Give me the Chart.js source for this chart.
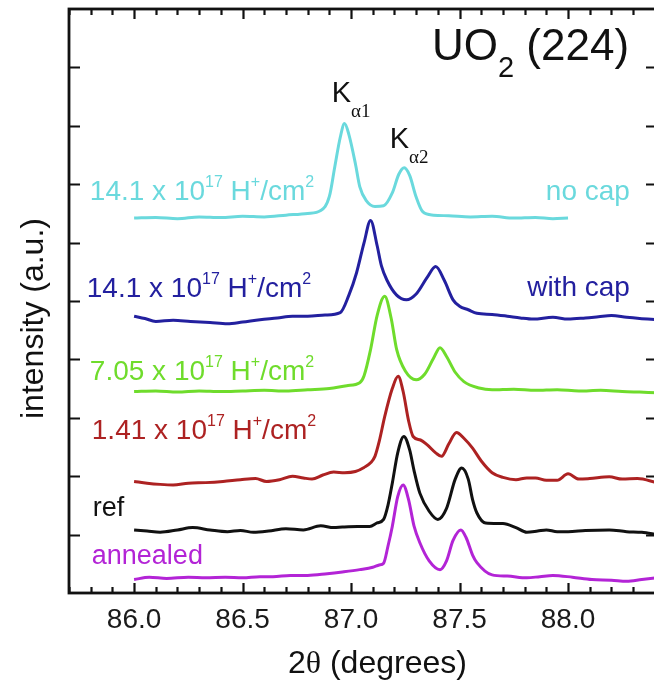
<!DOCTYPE html>
<html lang="en">
<head>
<meta charset="UTF-8" />
<title>UO2 (224) XRD</title>
<script src="https://cdn.jsdelivr.net/npm/chart.js"></script>
<style>
    html, body { margin: 0; padding: 0; background: #fff; overflow: hidden; }
    #wrap { width: 654px; height: 681px; overflow: hidden; position: relative; }
    canvas { display: block; }
</style>
</head>
<body>
<div id="wrap"><canvas id="xrd" width="657" height="681"></canvas></div>
<script>
// axis settings
const xMin = 85.70, xMax = 88.41;
const yMin = 0, yMax = 10;
const xTickValues = [86.0, 86.5, 87.0, 87.5, 88.0];

// no cap, 14.1e17
const noCapX = [86.00, 86.10, 86.20, 86.30, 86.40, 86.50, 86.60, 86.70, 86.80, 86.86, 86.90, 86.925, 86.95, 86.97, 86.99, 87.02, 87.04, 87.07, 87.11, 87.15, 87.19, 87.22, 87.245, 87.27, 87.30, 87.33, 87.38, 87.45, 87.55, 87.65, 87.75, 87.85, 87.93, 88.00];
const noCapY = [6.42, 6.43, 6.41, 6.44, 6.43, 6.45, 6.44, 6.47, 6.50, 6.55, 6.79, 7.30, 7.80, 8.04, 7.85, 7.35, 6.96, 6.72, 6.62, 6.63, 6.85, 7.17, 7.28, 7.15, 6.78, 6.53, 6.47, 6.46, 6.44, 6.45, 6.42, 6.43, 6.41, 6.42];

// with cap, 14.1e17
const withCapX = [86.00, 86.05, 86.10, 86.18, 86.26, 86.35, 86.43, 86.50, 86.58, 86.66, 86.73, 86.80, 86.88, 86.95, 86.99, 87.025, 87.06, 87.09, 87.12, 87.14, 87.165, 87.21, 87.255, 87.30, 87.35, 87.39, 87.43, 87.47, 87.50, 87.54, 87.58, 87.65, 87.72, 87.78, 87.84, 87.93, 88.00, 88.08, 88.14, 88.20, 88.27, 88.33, 88.41];
const withCapY = [4.74, 4.70, 4.65, 4.67, 4.65, 4.63, 4.61, 4.64, 4.68, 4.71, 4.74, 4.74, 4.76, 4.80, 5.10, 5.48, 6.00, 6.38, 5.95, 5.60, 5.36, 5.10, 5.02, 5.12, 5.40, 5.59, 5.35, 5.02, 4.91, 4.85, 4.79, 4.77, 4.74, 4.71, 4.69, 4.72, 4.69, 4.71, 4.73, 4.75, 4.72, 4.70, 4.68];

// 7.05e17
const dose705X = [86.00, 86.10, 86.20, 86.30, 86.40, 86.50, 86.60, 86.70, 86.80, 86.90, 86.98, 87.04, 87.06, 87.09, 87.12, 87.155, 87.185, 87.21, 87.25, 87.30, 87.34, 87.38, 87.41, 87.44, 87.48, 87.52, 87.59, 87.65, 87.75, 87.85, 87.95, 88.05, 88.15, 88.25, 88.33, 88.41];
const dose705Y = [3.45, 3.46, 3.44, 3.46, 3.45, 3.46, 3.47, 3.46, 3.48, 3.50, 3.55, 3.60, 3.72, 4.17, 4.75, 5.08, 4.70, 4.17, 3.80, 3.65, 3.75, 4.02, 4.20, 4.05, 3.78, 3.62, 3.51, 3.48, 3.49, 3.47, 3.48, 3.46, 3.47, 3.45, 3.44, 3.43];

// 1.41e17
const dose141X = [86.00, 86.06, 86.12, 86.18, 86.25, 86.33, 86.41, 86.49, 86.56, 86.61, 86.67, 86.73, 86.78, 86.82, 86.87, 86.92, 86.97, 87.02, 87.06, 87.09, 87.11, 87.13, 87.155, 87.19, 87.217, 87.24, 87.265, 87.286, 87.32, 87.35, 87.39, 87.417, 87.45, 87.486, 87.52, 87.56, 87.60, 87.65, 87.70, 87.76, 87.81, 87.85, 87.90, 87.95, 88.00, 88.05, 88.10, 88.19, 88.25, 88.32, 88.41];
const dose141Y = [1.91, 1.88, 1.86, 1.85, 1.88, 1.89, 1.91, 1.94, 1.96, 1.91, 1.94, 2.00, 1.97, 1.95, 2.02, 2.07, 2.06, 2.08, 2.15, 2.23, 2.34, 2.60, 3.02, 3.50, 3.71, 3.45, 2.95, 2.68, 2.62, 2.54, 2.40, 2.34, 2.55, 2.75, 2.65, 2.48, 2.26, 2.06, 1.98, 1.94, 1.97, 1.97, 1.93, 1.93, 2.04, 1.95, 1.96, 1.99, 1.95, 1.96, 1.89];

// ref
const refX = [86.00, 86.06, 86.12, 86.20, 86.27, 86.35, 86.43, 86.49, 86.55, 86.62, 86.70, 86.78, 86.86, 86.92, 86.96, 87.03, 87.086, 87.12, 87.15, 87.17, 87.19, 87.215, 87.243, 87.27, 87.29, 87.317, 87.36, 87.40, 87.44, 87.48, 87.51, 87.54, 87.56, 87.58, 87.62, 87.70, 87.76, 87.81, 87.86, 87.90, 87.95, 88.00, 88.08, 88.19, 88.27, 88.34, 88.41];
const refY = [1.08, 1.06, 1.04, 1.08, 1.12, 1.08, 1.05, 1.07, 1.04, 1.06, 1.10, 1.08, 1.15, 1.12, 1.13, 1.14, 1.14, 1.20, 1.26, 1.50, 1.88, 2.40, 2.68, 2.45, 2.10, 1.71, 1.40, 1.26, 1.45, 1.95, 2.14, 1.95, 1.60, 1.37, 1.20, 1.19, 1.12, 1.04, 1.06, 1.08, 1.05, 1.05, 1.07, 1.08, 1.05, 1.04, 1.00];

// annealed
const annealedX = [86.00, 86.07, 86.15, 86.25, 86.33, 86.42, 86.50, 86.58, 86.64, 86.72, 86.80, 86.89, 86.96, 87.04, 87.10, 87.13, 87.15, 87.17, 87.19, 87.215, 87.24, 87.265, 87.29, 87.317, 87.36, 87.41, 87.44, 87.47, 87.506, 87.53, 87.56, 87.58, 87.65, 87.72, 87.81, 87.87, 87.93, 88.02, 88.11, 88.20, 88.27, 88.34, 88.41];
const annealedY = [0.23, 0.27, 0.25, 0.27, 0.26, 0.27, 0.26, 0.28, 0.28, 0.30, 0.30, 0.33, 0.36, 0.40, 0.44, 0.48, 0.51, 0.80, 1.14, 1.65, 1.85, 1.60, 1.15, 0.86, 0.55, 0.40, 0.55, 0.90, 1.08, 0.95, 0.65, 0.52, 0.31, 0.29, 0.26, 0.28, 0.30, 0.27, 0.23, 0.22, 0.20, 0.23, 0.26];

const SANS = '"Liberation Sans", Arial, Helvetica, sans-serif';
const SERIF = '"Liberation Serif", "DejaVu Serif", serif';

const colors = {
    noCap: '#6ad9dd',
    withCap: '#23209f',
    d705: '#6fdc2c',
    d141: '#ad2222',
    ref: '#111111',
    annealed: '#b324d6'
};

function pts(xs, ys) {
    return xs.map((x, i) => ({ x: x, y: ys[i] }));
}

function series(label, xs, ys, color) {
    return {
        label: label,
        data: pts(xs, ys),
        borderColor: color,
        borderWidth: 3,
        pointRadius: 0,
        fill: false,
        cubicInterpolationMode: 'monotone'
    };
}

// rich text pieces: [text, size, dy, family]
const doseSup = (lead) => [[lead + ' x 10', 28, 0, SANS], ['17', 16, -13, SANS], [' H', 28, 0, SANS], ['+', 16, -13, SANS], ['/cm', 28, 0, SANS], ['2', 16, -13, SANS]];

const labels = [
    { x: 85.796, y: 6.73, color: colors.noCap, parts: doseSup('14.1') },
    { x: 85.782, y: 5.07, color: colors.withCap, parts: doseSup('14.1') },
    { x: 85.796, y: 3.65, color: colors.d705, parts: doseSup('7.05') },
    { x: 85.805, y: 2.63, color: colors.d141, parts: doseSup('1.41') },
    { x: 85.810, y: 1.31, color: colors.ref, parts: [['ref', 27, 0, SANS]] },
    { x: 85.805, y: 0.49, color: colors.annealed, parts: [['annealed', 27, 0, SANS]] },
    { x: 88.285, y: 6.73, color: colors.noCap, align: 'right', parts: [['no cap', 28, 0, SANS]] },
    { x: 88.285, y: 5.09, color: colors.withCap, align: 'right', parts: [['with cap', 28, 0, SANS]] },
    { x: 87.373, y: 9.13, color: '#111', parts: [['UO', 44, 0, SANS], ['2', 29, 17, SANS], [' (224)', 44, 0, SANS]] },
    { x: 86.911, y: 8.40, color: '#111', parts: [['K', 29, 0, SANS], ['\u03b11', 19, 15, SERIF]] },
    { x: 87.178, y: 7.62, color: '#111', parts: [['K', 29, 0, SANS], ['\u03b12', 19, 15, SERIF]] }
];

function partsWidth(ctx, parts) {
    let w = 0;
    parts.forEach(p => { ctx.font = p[1] + 'px ' + p[3]; w += ctx.measureText(p[0]).width; });
    return w;
}

function drawParts(ctx, parts, x, y, color) {
    ctx.fillStyle = color;
    ctx.textBaseline = 'alphabetic';
    ctx.textAlign = 'left';
    parts.forEach(p => {
        ctx.font = p[1] + 'px ' + p[3];
        ctx.fillText(p[0], x, y + p[2]);
        x += ctx.measureText(p[0]).width;
    });
}

const framePlugin = {
    id: 'frame',
    afterDraw(chart) {
        const ctx = chart.ctx;
        const a = chart.chartArea;
        const xs = chart.scales.x, ys = chart.scales.y;
        ctx.save();
        ctx.strokeStyle = '#111';
        ctx.lineWidth = 2.2;
        ctx.beginPath();
        // x ticks, top and bottom, inward
        for (let i = 0; i <= Math.round((xMax - xMin) * 10); i++) {
            const v = Math.round((xMin + i * 0.1) * 10) / 10;
            if (v < xMin || v > xMax) continue;
            const px = Math.round(xs.getPixelForValue(v)) + 0.5;
            const major = Math.abs(v * 2 - Math.round(v * 2)) < 1e-6;
            const len = major ? 10 : 6;
            ctx.moveTo(px, a.bottom); ctx.lineTo(px, a.bottom - len);
            ctx.moveTo(px, a.top); ctx.lineTo(px, a.top + len);
        }
        // y ticks, left and right, inward
        for (let v = yMin + 1; v < yMax; v++) {
            const py = Math.round(ys.getPixelForValue(v)) + 0.5;
            ctx.moveTo(a.left, py); ctx.lineTo(a.left + 11, py);
            ctx.moveTo(a.right, py); ctx.lineTo(a.right - 11, py);
        }
        ctx.stroke();
        ctx.lineWidth = 2.8;
        ctx.strokeRect(a.left, a.top, a.right - a.left, a.bottom - a.top);

        labels.forEach(l => {
            let px = xs.getPixelForValue(l.x);
            const py = ys.getPixelForValue(l.y);
            if (l.align === 'right') px -= partsWidth(ctx, l.parts);
            drawParts(ctx, l.parts, px, py, l.color);
        });

        // x axis title: 2θ (degrees)
        const tParts = [['2', 32, 0, SANS], ['\u03b8', 32, 0, SERIF], [' (degrees)', 32, 0, SANS]];
        drawParts(ctx, tParts, xs.getPixelForValue(86.709), 673, '#111');

        // y axis title
        ctx.translate(43, ys.getPixelForValue(4.70));
        ctx.rotate(-Math.PI / 2);
        ctx.font = '32px ' + SANS;
        ctx.fillStyle = '#111';
        ctx.textAlign = 'center';
        ctx.textBaseline = 'alphabetic';
        ctx.fillText('intensity (a.u.)', 0, 0);
        ctx.restore();
    }
};

new Chart(document.getElementById('xrd'), {
    type: 'line',
    data: {
        datasets: [
            series('14.1 x 10^17 H+/cm2 no cap', noCapX, noCapY, colors.noCap),
            series('14.1 x 10^17 H+/cm2 with cap', withCapX, withCapY, colors.withCap),
            series('7.05 x 10^17 H+/cm2', dose705X, dose705Y, colors.d705),
            series('1.41 x 10^17 H+/cm2', dose141X, dose141Y, colors.d141),
            series('ref', refX, refY, colors.ref),
            series('annealed', annealedX, annealedY, colors.annealed)
        ]
    },
    options: {
        responsive: false,
        animation: false,
        devicePixelRatio: 1,
        layout: { padding: { top: 9, right: 0, left: 0, bottom: 0 } },
        plugins: { legend: { display: false }, tooltip: { enabled: false } },
        scales: {
            x: {
                type: 'linear',
                min: xMin,
                max: xMax,
                grid: { display: false, drawTicks: false },
                border: { display: false },
                afterBuildTicks: (axis) => { axis.ticks = xTickValues.map(v => ({ value: v })); },
                afterFit: (axis) => { axis.height = 88; },
                ticks: {
                    padding: 10,
                    color: '#1a1a1a',
                    font: { family: SANS, size: 28 },
                    maxRotation: 0,
                    callback: (v) => Number(v).toFixed(1)
                }
            },
            y: {
                type: 'linear',
                min: yMin,
                max: yMax,
                grid: { display: false, drawTicks: false },
                border: { display: false },
                ticks: { display: false },
                afterFit: (axis) => { axis.width = 69; }
            }
        }
    },
    plugins: [framePlugin]
});
</script>
</body>
</html>
